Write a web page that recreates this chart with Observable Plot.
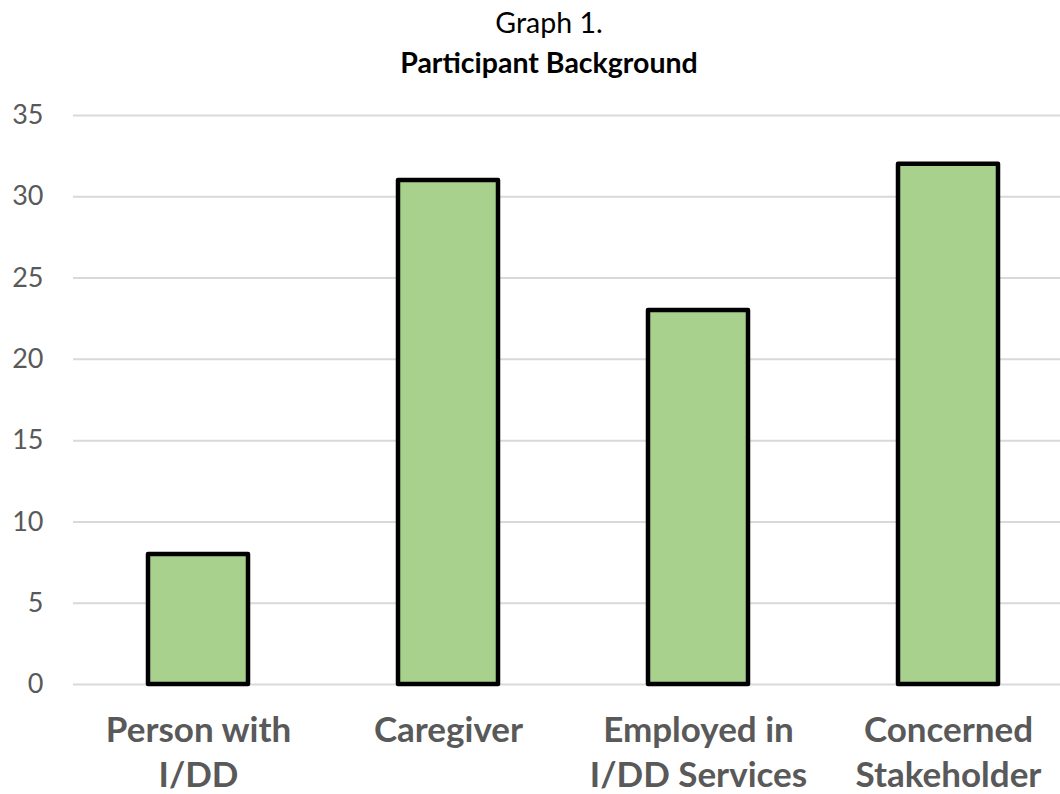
<!DOCTYPE html>
<html>
<head>
<meta charset="utf-8">
<script src="https://cdn.jsdelivr.net/npm/d3@7"></script>
<script src="https://cdn.jsdelivr.net/npm/@observablehq/plot@0.6"></script>
<style>
  html, body { margin: 0; padding: 0; background: #fff; overflow: hidden; width: 1060px; height: 794px; }
  #title { width: 1022px; padding-left: 38px; text-align: center; font-family: Lato, "Open Sans", sans-serif; font-size: 28.5px; line-height: 40px; padding-top: 2px; color: #000; height: 81px; }
  #title .t2 { font-weight: bold; }
  #chart svg { display: block; }
</style>
</head>
<body>
  <div id="title"><div class="t1">Graph 1.</div><div class="t2">Participant Background</div></div>
  <div id="chart"></div>
<script>
const categories = ["Person with I/DD", "Caregiver", "Employed in I/DD Services", "Concerned Stakeholder"];
const tickLabels = ["Person with\nI/DD", "Caregiver", "Employed in\nI/DD Services", "Concerned\nStakeholder"];
const counts = [8, 31, 23, 32];
const yTicks = [0, 5, 10, 15, 20, 25, 30, 35];

const data = categories.map((c, i) => ({category: c, count: counts[i]}));
const labelOf = new Map(categories.map((c, i) => [c, tickLabels[i]]));

const chart = Plot.plot({
  width: 1060,
  height: 711,
  marginLeft: 73,
  marginRight: -13,
  marginTop: 32,
  marginBottom: 110,
  style: {fontFamily: "Lato, 'Open Sans', sans-serif", background: "#fff"},
  x: {domain: categories, paddingInner: 0.6, paddingOuter: 0.3, align: 0.5},
  y: {domain: [0, 35]},
  marks: [
    Plot.ruleY(yTicks, {stroke: "#d9d9d9", strokeWidth: 2}),
    Plot.barY(data, {x: "category", y: "count", fill: "#a9d18e", stroke: "#000", strokeWidth: 4.5, strokeLinejoin: "round"}),
    Plot.axisY({ticks: yTicks, tickSize: 0, tickPadding: 30, fontSize: 27, fill: "#595959", label: null, tickFormat: d => String(d)}),
    Plot.axisX({tickSize: 0, tickPadding: 26, fontSize: 35, fontWeight: "bold", fill: "#595959", lineHeight: 1.28, label: null, tickFormat: d => labelOf.get(d)})
  ]
});
document.getElementById("chart").appendChild(chart);
</script>
</body>
</html>
